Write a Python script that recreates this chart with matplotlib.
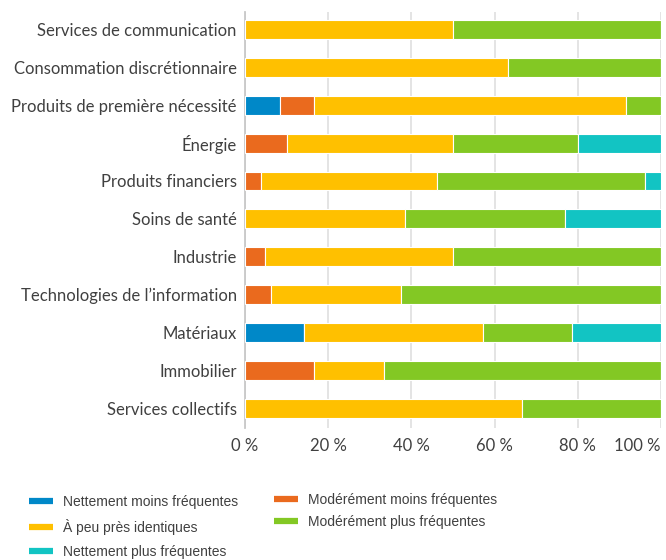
import matplotlib.pyplot as plt
import numpy as np
from matplotlib.lines import Line2D
from matplotlib import font_manager

sectors = [
    'Services de communication',
    'Consommation discrétionnaire',
    'Produits de première nécessité',
    'Énergie',
    'Produits financiers',
    'Soins de santé',
    'Industrie',
    'Technologies de l’information',
    'Matériaux',
    'Immobilier',
    'Services collectifs',
]

nettement_moins = [0, 0, 8.3, 0, 0, 0, 0, 0, 14.3, 0, 0]
moderement_moins = [0, 0, 8.3, 10, 3.8, 0, 4.8, 6.25, 0, 16.7, 0]
identiques = [50, 63.2, 75, 40, 42.3, 38.5, 45.2, 31.25, 42.9, 16.7, 66.7]
moderement_plus = [50, 36.8, 8.4, 30, 50, 38.4, 50, 62.5, 21.4, 66.6, 33.3]
nettement_plus = [0, 0, 0, 20, 3.9, 23.1, 0, 0, 21.4, 0, 0]

tick_values = [0, 20, 40, 60, 80, 100]
tick_labels = ['0 %', '20 %', '40 %', '60 %', '80 %', '100 %']

series = [
    ('Nettement moins fréquentes', nettement_moins, '#0088c8'),
    ('Modérément moins fréquentes', moderement_moins, '#ea6a1e'),
    ('À peu près identiques', identiques, '#ffc000'),
    ('Modérément plus fréquentes', moderement_plus, '#83c824'),
    ('Nettement plus fréquentes', nettement_plus, '#12c4c3'),
]

plt.rcParams['font.family'] = ['Lato', 'DejaVu Sans']
text_color = '#404040'

# narrow face for the legend, plain Liberation Sans if it is missing
try:
    font_manager.findfont('Liberation Sans Narrow', fallback_to_default=False)
    legend_font = {'family': 'Liberation Sans Narrow', 'size': 12}
except ValueError:
    legend_font = {'family': 'Liberation Sans', 'size': 10}

fig = plt.figure(figsize=(6.66, 5.6), dpi=100)
ax = fig.add_axes([245 / 666, 1 - 428 / 560, 416 / 666, 416 / 560])

y = np.arange(len(sectors))
left = np.zeros(len(sectors))
for name, vals, color in series:
    vals = np.array(vals, dtype=float)
    ax.barh(y, vals, left=left, height=0.5, color=color,
            edgecolor='white', linewidth=0.8, zorder=3)
    left += vals

ax.set_xlim(0, 100)
ax.set_ylim(10.52, -0.46)
ax.set_yticks(y)
ax.set_yticklabels(sectors, fontsize=12, color=text_color)
ax.set_xticks(tick_values)
ax.set_xticklabels(tick_labels, fontsize=12, color=text_color)
ax.get_xticklabels()[-1].set_horizontalalignment('right')
ax.tick_params(axis='y', length=0, pad=6)
ax.tick_params(axis='x', length=0, pad=7)

ax.grid(axis='x', color='#e2e2e2', linewidth=1.3, zorder=0)
for side in ['top', 'right', 'bottom']:
    ax.spines[side].set_visible(False)
ax.spines['left'].set_color('#c8c8c8')
ax.spines['left'].set_linewidth(1.3)


def legend_handle(color):
    return Line2D([0], [0], color=color, linewidth=4.5, solid_capstyle='butt')


left_items = [series[0], series[2], series[4]]
right_items = [series[1], series[3]]
legend_style = dict(loc='upper left', frameon=False, borderpad=0,
                    borderaxespad=0, handletextpad=0.75,
                    labelcolor=text_color, prop=legend_font)
hl = 24 / (legend_font['size'] * 100 / 72)

fig.legend([legend_handle(c) for _, _, c in left_items],
           [n for n, _, _ in left_items],
           bbox_to_anchor=(29 / 666, 1 - 495 / 560), handlelength=hl,
           labelspacing=0.72, **legend_style)
fig.legend([legend_handle(c) for _, _, c in right_items],
           [n for n, _, _ in right_items],
           bbox_to_anchor=(274 / 666, 1 - 493 / 560), handlelength=hl,
           labelspacing=0.58, **legend_style)

fig.savefig('out.png', dpi=100)
